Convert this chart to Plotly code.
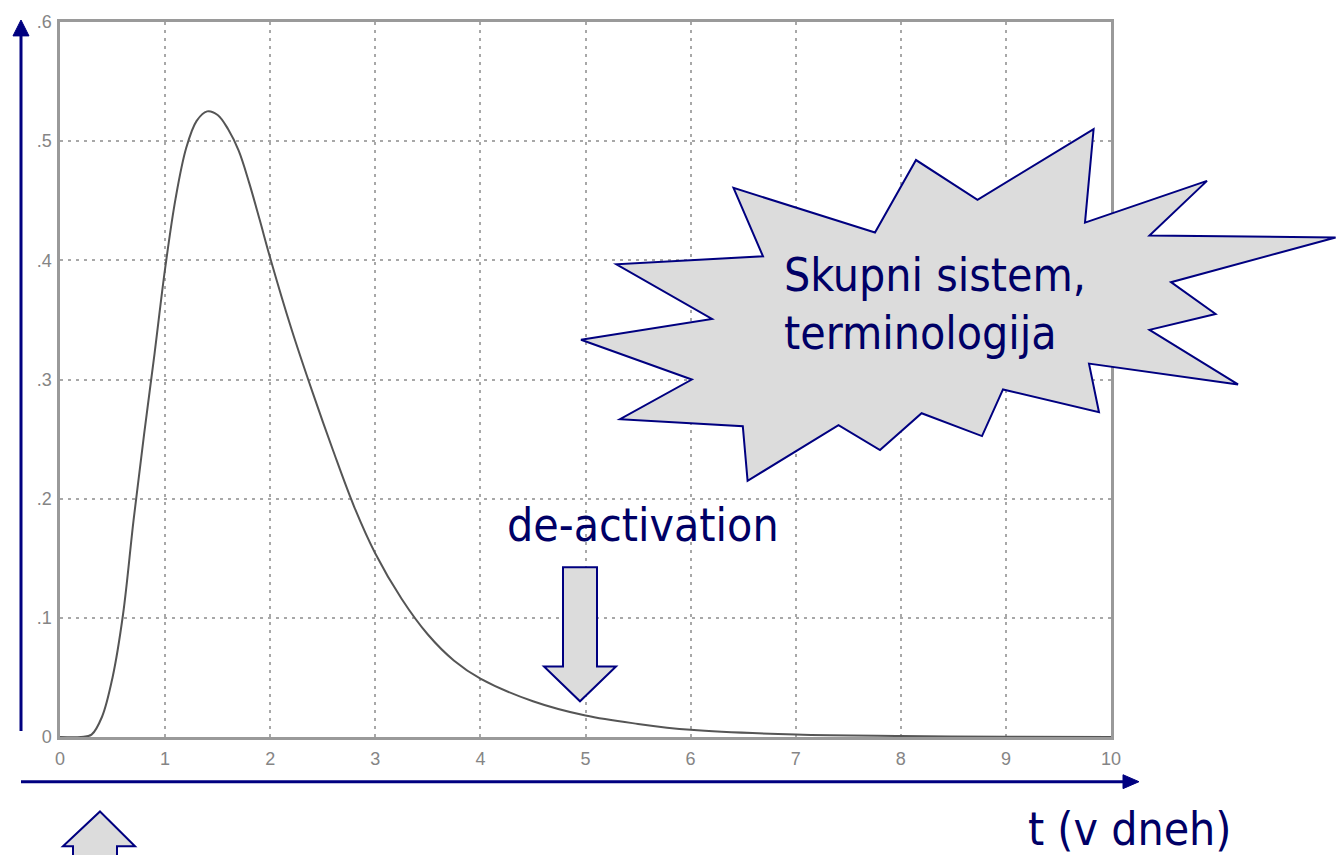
import plotly.graph_objects as go

# ---- data ----
t_days = [0, 0.2, 0.3, 0.4, 0.5, 0.6, 0.7, 0.8, 0.9, 1.0, 1.1, 1.2, 1.3, 1.4, 1.5,
          1.6, 1.7, 1.8, 1.9, 2.0, 2.2, 2.4, 2.6, 2.8, 3.0, 3.25, 3.5, 3.75, 4.0,
          4.5, 5.0, 5.5, 6.0, 7.0, 8.0, 9.0, 10.0]
density = [0, 0, 0.002, 0.017, 0.05, 0.103, 0.182, 0.254, 0.322, 0.393, 0.452, 0.494,
           0.517, 0.525, 0.522, 0.51, 0.492, 0.465, 0.434, 0.402, 0.343, 0.29, 0.24,
           0.193, 0.154, 0.116, 0.086, 0.064, 0.049, 0.03, 0.018, 0.011, 0.006,
           0.002, 0.0008, 0.0003, 0.0001]
x_ticks = [0, 1, 2, 3, 4, 5, 6, 7, 8, 9, 10]
y_ticks = [0, 0.1, 0.2, 0.3, 0.4, 0.5, 0.6]
y_tick_labels = ["0", ".1", ".2", ".3", ".4", ".5", ".6"]

burst_text = ["Skupni sistem,", "terminologija"]
arrow_label = "de-activation"
time_label = "t (v dneh)"

W, H = 1340, 855
L, R, T, B = 60, 229, 17, 118
PW, PH = W - L - R, H - T - B

NAVY = "#000080"
TEXT = "#000066"
FILL = "#DCDCDC"


def px(x):
    return (x - L) / PW


def py(y):
    return (H - B - y) / PH


def path(points):
    s = "M " + " L ".join(f"{px(a):.5f},{py(b):.5f}" for a, b in points) + " Z"
    return s


fig = go.Figure()
fig.add_trace(go.Scatter(x=t_days, y=density, mode="lines",
                         line=dict(color="#555555", width=2, shape="spline", smoothing=1.0),
                         hoverinfo="skip", showlegend=False))

axis_common = dict(showline=True, linecolor="#9a9a9a", linewidth=2.5, mirror=True,
                   showgrid=True, gridcolor="#a8a8a8", griddash="3px,5px", gridwidth=1.5,
                   zeroline=False, ticks="",
                   tickfont=dict(family="Liberation Sans, Arial", size=18, color="#858585"))

fig.update_xaxes(range=[0, 10], tickvals=x_ticks, ticklabelstandoff=4, **axis_common)
fig.update_yaxes(range=[0, 0.6], tickvals=y_ticks, ticktext=y_tick_labels,
                 ticklabelstandoff=2, **axis_common)

shapes = []
# vertical axis arrow
shapes.append(dict(type="line", xref="paper", yref="paper", x0=px(21), x1=px(21),
                   y0=py(731), y1=py(28), line=dict(color=NAVY, width=3)))
shapes.append(dict(type="path", xref="paper", yref="paper",
                   path=path([(13, 31), (29, 31), (21, 15)]), fillcolor=NAVY,
                   line=dict(color=NAVY, width=1)))
# horizontal axis arrow
shapes.append(dict(type="line", xref="paper", yref="paper", x0=px(21), x1=px(1125),
                   y0=py(782), y1=py(782), line=dict(color=NAVY, width=3)))
shapes.append(dict(type="path", xref="paper", yref="paper",
                   path=path([(1123, 775), (1123, 789), (1139, 782)]), fillcolor=NAVY,
                   line=dict(color=NAVY, width=1)))
# down arrow (de-activation)
shapes.append(dict(type="path", xref="paper", yref="paper",
                   path=path([(563, 566), (597, 566), (597, 666), (616, 666), (580, 701),
                              (544, 666), (563, 666)]),
                   fillcolor=FILL, line=dict(color=NAVY, width=2)))
# up arrow bottom-left
shapes.append(dict(type="path", xref="paper", yref="paper",
                   path=path([(100, 812), (135, 847), (117, 847), (117, 870), (73, 870),
                              (73, 847), (63, 847)]),
                   fillcolor=FILL, line=dict(color=NAVY, width=2)))
# starburst
burst = [(1093.6, 125), (1085, 219), (1207, 177), (1149.5, 232), (1335.6, 234),
         (1171, 279), (1215.6, 311), (1149.5, 327), (1238, 382), (1089, 361),
         (1099, 410), (1003, 387), (982, 434), (921.6, 411), (880, 448), (838.5, 423),
         (747.6, 479), (742.8, 424), (620, 417), (691.8, 377), (581, 337), (712, 316),
         (616.4, 261), (763, 253), (733.5, 184), (875, 229), (916, 156), (977.5, 196)]
shapes.append(dict(type="path", xref="paper", yref="paper", path=path(burst),
                   fillcolor=FILL, line=dict(color=NAVY, width=2)))

big_font = dict(family="DejaVu Sans Condensed, DejaVu Sans", size=46, color=TEXT)
annotations = [
    dict(x=px(782), y=py(272), xref="paper", yref="paper", text=burst_text[0],
         showarrow=False, xanchor="left", yanchor="middle", font=big_font),
    dict(x=px(782), y=py(330), xref="paper", yref="paper", text=burst_text[1],
         showarrow=False, xanchor="left", yanchor="middle", font=big_font),
    dict(x=px(643), y=py(524), xref="paper", yref="paper", text=arrow_label,
         showarrow=False, xanchor="center", yanchor="middle", font=big_font),
    dict(x=px(1130), y=py(830), xref="paper", yref="paper", text=time_label,
         showarrow=False, xanchor="center", yanchor="middle", font=big_font),
]

fig.update_layout(width=W, height=H, margin=dict(l=L, r=R, t=T, b=B),
                  paper_bgcolor="white", plot_bgcolor="white",
                  shapes=shapes, annotations=annotations, showlegend=False)

fig.write_html("out.html", config={"displayModeBar": False},
               post_script="document.body.style.margin='0';")
